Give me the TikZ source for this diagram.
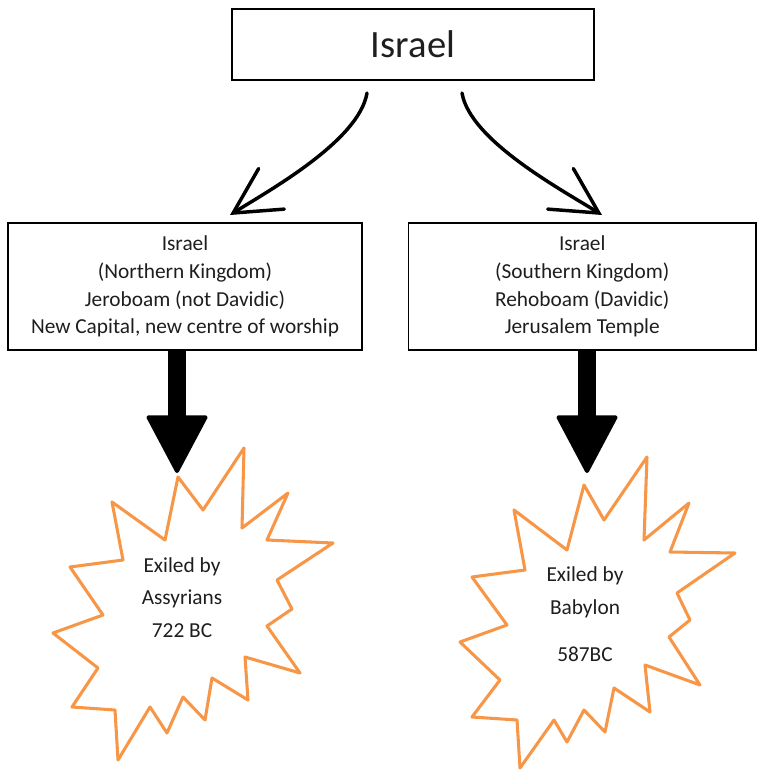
\documentclass[tikz,border=0pt]{standalone}
\usepackage{fontspec}
\setmainfont{Carlito}
\usetikzlibrary{arrows.meta}

\definecolor{burstorange}{RGB}{247,150,70}
\definecolor{inkgrey}{RGB}{30,30,30}

\begin{document}
\begin{tikzpicture}[
    x=0.75pt, y=-0.75pt,
    box/.style={draw, line width=0.9pt, inner sep=0pt, align=center, text=inkgrey},
    kingdom/.style={box, minimum height=95.25pt, font=\fontsize{16}{20.8}\selectfont},
    split/.style={-{Straight Barb[length=34pt,width=36pt,line cap=round]}, line width=2.6pt, line cap=round},
    fall/.style={-{Triangle[length=45pt,width=47pt,line width=3pt,round]}, line width=14pt},
    burst/.style={draw=burstorange, line width=2.3pt, line join=round},
    exile/.style={align=center, text=inkgrey, font=\fontsize{16}{24.4}\selectfont}
]
    \useasboundingbox (0,0) rectangle (757,771);

    % Boxes
    \node[box, minimum width=271.5pt, minimum height=53.25pt, font=\fontsize{29}{34}\selectfont] (israel) at (413,44.5) {Israel};
    \node[kingdom, minimum width=265.5pt] (north) at (185,286.5) {Israel\\(Northern Kingdom)\\Jeroboam (not Davidic)\\New Capital, new centre of worship};
    \node[kingdom, minimum width=260.6pt] (south) at (582.25,286.5) {Israel\\(Southern Kingdom)\\Rehoboam (Davidic)\\Jerusalem Temple};

    % Split
    \coordinate (forkL) at (367,93);
    \coordinate (forkR) at (462,93);
    \coordinate (northTip) at (230,215);
    \coordinate (southTip) at (602,215);
    \draw[split] (forkL) .. controls +(-8,48) and +(38,-24) .. (northTip);
    \draw[split] (forkR) .. controls +(8,48) and +(-38,-24) .. (southTip);

    % Exiles
    \draw[burst] (178,477) -- (203,510) -- (244,448) -- (242,528) -- (288,493) -- (267,540) -- (333,543)
        -- (277,580) -- (292,609) -- (267,626) -- (300,673) -- (245,657) -- (248,700) -- (212,678)
        -- (205,720) -- (183,697) -- (167,733) -- (150,707) -- (118,760) -- (115,710) -- (72,707)
        -- (98,668) -- (53,633) -- (103,615) -- (70,567) -- (123,560) -- (112,502) -- (165,540) -- cycle;
    \draw[burst] (584,485) -- (604,520) -- (647,457) -- (644,540) -- (689,503) -- (670,552) -- (735,553)
        -- (677,593) -- (690,620) -- (669,637) -- (700,685) -- (645,665) -- (650,712) -- (614,688)
        -- (605,732) -- (584,710) -- (567,742) -- (554,720) -- (520,768) -- (517,720) -- (472,717)
        -- (500,680) -- (460,642) -- (507,625) -- (472,577) -- (525,570) -- (514,510) -- (567,550) -- cycle;
    \node[exile] (assyria) at (182,597.5) {Exiled by\\Assyrians\\722 BC};
    \node[exile] (babylon) at (585,614.5) {Exiled by\\Babylon\\[11pt]587BC};

    \coordinate (assyriaTop) at (177,473);
    \coordinate (babylonTop) at (587,473);
    \draw[fall] (north.south -| assyriaTop) -- (assyriaTop);
    \draw[fall] (south.south -| babylonTop) -- (babylonTop);

\end{tikzpicture}
\end{document}
